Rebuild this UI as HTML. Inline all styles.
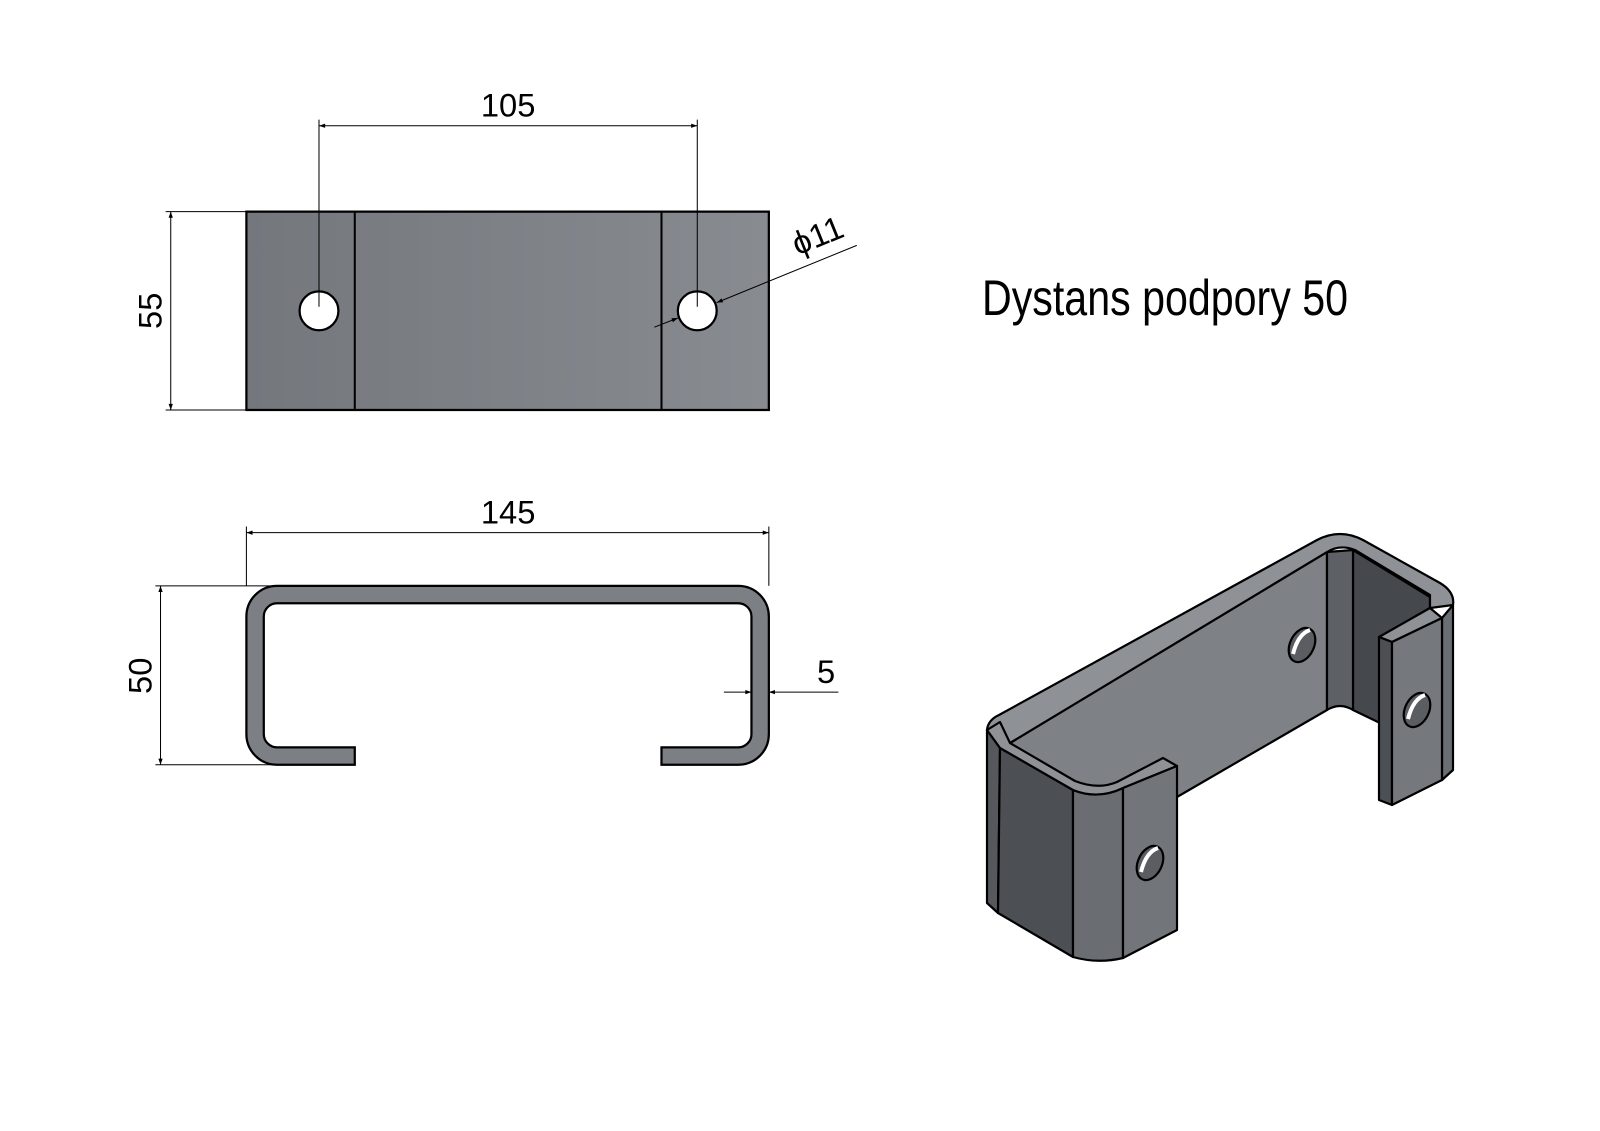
<!DOCTYPE html>
<html><head><meta charset="utf-8"><style>html,body{margin:0;padding:0;background:#fff}svg{display:block}</style></head>
<body>
<svg width="1600" height="1131" viewBox="0 0 1600 1131" xmlns="http://www.w3.org/2000/svg">
<defs>
<linearGradient id="g1" x1="0" x2="1" y1="0" y2="0"><stop offset="0" stop-color="#74787d"/><stop offset="0.5" stop-color="#7e8287"/><stop offset="1" stop-color="#888c91"/></linearGradient>
<marker id="ar" viewBox="0 0 10 10" refX="10" refY="5" markerWidth="14" markerHeight="6" orient="auto-start-reverse" markerUnits="userSpaceOnUse"><path d="M0,1.5 L10,5 L0,8.5 Z" fill="#000"/></marker>
</defs>
<g font-family="'Liberation Sans Narrow','Liberation Sans',sans-serif" fill="#000">
<g transform="scale(1.0224)">
 <rect x="241" y="207" width="511" height="194" fill="url(#g1)" stroke="#000" stroke-width="2.2"/>
 <line x1="347" y1="207" x2="347" y2="401" stroke="#000" stroke-width="2"/>
 <line x1="647" y1="207" x2="647" y2="401" stroke="#000" stroke-width="2"/>
 <circle cx="312" cy="304" r="19" fill="#fff" stroke="#000" stroke-width="2.2"/>
 <circle cx="682" cy="304" r="19" fill="#fff" stroke="#000" stroke-width="2.2"/>
 <g stroke="#000" stroke-width="1" fill="none">
  <line x1="312" y1="117" x2="312" y2="300"/>
  <line x1="682" y1="117" x2="682" y2="300"/>
  <line x1="312" y1="123" x2="682" y2="123" marker-start="url(#ar)" marker-end="url(#ar)"/>
  <line x1="162" y1="207" x2="241" y2="207"/>
  <line x1="162" y1="401" x2="241" y2="401"/>
  <line x1="167" y1="207" x2="167" y2="401" marker-start="url(#ar)" marker-end="url(#ar)"/>
  <line x1="838" y1="240" x2="701" y2="296" marker-end="url(#ar)"/>
  <line x1="640" y1="320" x2="663" y2="311" marker-end="url(#ar)"/>
  <line x1="241" y1="515" x2="241" y2="573"/>
  <line x1="752" y1="515" x2="752" y2="573"/>
  <line x1="241" y1="521" x2="752" y2="521" marker-start="url(#ar)" marker-end="url(#ar)"/>
  <line x1="152" y1="573" x2="271" y2="573"/>
  <line x1="152" y1="748" x2="271" y2="748"/>
  <line x1="157" y1="573" x2="157" y2="748" marker-start="url(#ar)" marker-end="url(#ar)"/>
  <line x1="708" y1="677" x2="735" y2="677" marker-end="url(#ar)"/>
  <line x1="820" y1="677" x2="752" y2="677" marker-end="url(#ar)"/>
 </g>
 <text x="497" y="114" font-size="32" text-anchor="middle">105</text>
 <text transform="translate(158,304) rotate(-90)" font-size="32" text-anchor="middle">55</text>
 <text transform="translate(780,250) rotate(-22)" font-size="32">ϕ11</text>
 <path d="M347,748 L271,748 A30,30 0 0 1 241,718 L241,603 A30,30 0 0 1 271,573 L722,573 A30,30 0 0 1 752,603 L752,718 A30,30 0 0 1 722,748 L647,748 L647,731 L722,731 A13,13 0 0 0 735,718 L735,603 A13,13 0 0 0 722,590 L271,590 A13,13 0 0 0 258,603 L258,718 A13,13 0 0 0 271,731 L347,731 Z" fill="#7c8085" stroke="#000" stroke-width="2.2"/>
 <text x="497" y="512" font-size="32" text-anchor="middle">145</text>
 <text transform="translate(148,661) rotate(-90)" font-size="32" text-anchor="middle">50</text>
 <text x="808" y="668" font-size="32" text-anchor="middle">5</text>
</g>
<text x="982" y="315" font-size="50" textLength="366" lengthAdjust="spacingAndGlyphs">Dystans podpory 50</text>
</g>
<g stroke="#000" stroke-width="2.2" stroke-linejoin="round">
 <polygon points="1010,743 1327,552 1327,710 1177,797 1010,800" fill="#7e8287"/>
 <polygon points="1353,550 1430,597 1430,608 1380,637 1380,723 1353,710" fill="#45494e"/>
 <path d="M1327,552 L1353,550 L1353,710 Q1340,702 1327,710 Z" fill="#5d6166"/>
 <path d="M987,730 Q988,720 999,715 L1317,540 Q1340,528 1363,540 L1440,583 Q1455,592 1453,605 L1430,608 L1430,595 L1355,550 Q1340,544 1327,552 L1010,743 Q1003,750 1000,748 Z" fill="#8e9297"/>
 <polygon points="987,730 1000,748 998,913 987,903" fill="#55595e"/>
 <polygon points="1000,748 1073,790 1073,957 998,913" fill="#4c5055"/>
 <path d="M1073,790 Q1098,800 1123,788 L1123,958 Q1098,964 1073,957 Z" fill="#6a6e73"/>
 <path d="M987,730 L1000,722 L1010,743 L1075,781 Q1098,790 1117,782 L1163,758 L1177,766 L1123,788 Q1098,800 1073,790 L1000,748 Z" fill="#8e9297"/>
 <polygon points="1123,788 1177,766 1177,930 1123,958" fill="#72767b"/>
 <ellipse cx="1150" cy="863" rx="12" ry="18" transform="rotate(25 1150 863)" fill="#5a5e63"/>
 <path d="M1141,872 Q1146,852 1158,848" stroke="#fff" stroke-width="4" fill="none"/>
 <polygon points="1442,618 1453,605 1453,770 1442,780" fill="#6a6e73"/>
 <polygon points="1379,637 1430,608 1442,618 1392,642" fill="#8e9297"/>
 <polygon points="1379,637 1392,642 1392,805 1379,800" fill="#4c5055"/>
 <polygon points="1392,642 1442,618 1442,780 1392,805" fill="#75797e"/>
 <ellipse cx="1417" cy="710" rx="12" ry="18" transform="rotate(25 1417 710)" fill="#5a5e63"/>
 <path d="M1408,719 Q1413,699 1425,695" stroke="#fff" stroke-width="4" fill="none"/>
 <ellipse cx="1302" cy="645" rx="12" ry="18" transform="rotate(25 1302 645)" fill="#5a5e63"/>
 <path d="M1293,654 Q1298,634 1310,630" stroke="#fff" stroke-width="4" fill="none"/>
</g>
</svg>
</body></html>
